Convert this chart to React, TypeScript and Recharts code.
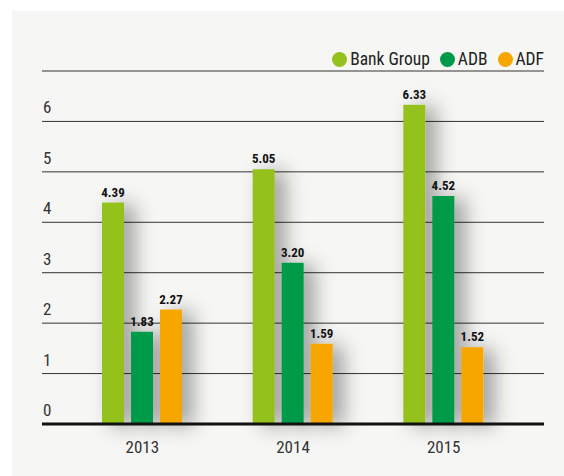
import React from 'react';
import { BarChart, Bar, XAxis, YAxis, CartesianGrid, LabelList } from 'recharts';

const years = ['2013', '2014', '2015'];
const bankGroup = [4.39, 5.05, 6.33];
const adb = [1.83, 3.2, 4.52];
const adf = [2.27, 1.59, 1.52];
const yTicks = [0, 1, 2, 3, 4, 5, 6, 7];

const seriesNames = ['Bank Group', 'ADB', 'ADF'];
const seriesColors = ['#95c11f', '#009b48', '#f7a600'];

const data = years.map((y, i) => ({ year: y, bank: bankGroup[i], adb: adb[i], adf: adf[i] }));

const FONT = '"Liberation Sans Narrow", "Roboto Condensed", "Liberation Sans", Arial, sans-serif';

const YTick = (props: any) => {
  const { x, y, payload } = props;
  if (payload.value === 7) return null;
  return (
    <text x={x + 1} y={y} dy={-8} textAnchor="start" fontSize={17} fill="#333" fontFamily={FONT}>
      {payload.value}
    </text>
  );
};

const LegendBox = () => (
  <div
    style={{
      position: 'absolute',
      right: 20,
      top: 38,
      display: 'flex',
      alignItems: 'center',
      fontFamily: FONT,
      fontSize: 17.5,
      color: '#222',
      lineHeight: '20px',
    }}
  >
    {seriesNames.map((n, i) => (
      <div key={n} style={{ display: 'flex', alignItems: 'center', marginLeft: i === 0 ? 0 : 10 }}>
        <span style={{ width: 15, height: 15, borderRadius: '50%', background: seriesColors[i], display: 'inline-block', marginRight: 3 }} />
        <span>{n}</span>
      </div>
    ))}
  </div>
);

const fmt = (v: any) => Number(v).toFixed(2);
const labelStyle = { fontSize: 13, fontWeight: 'bold', fill: '#111', fontFamily: FONT };

export default function App() {
  return (
    <div style={{ position: 'absolute', left: 12, top: 11, width: 552, height: 465, background: '#f6f6f4' }}>
      <style>{`.recharts-bar-rectangles { filter: url(#barShadow); }`}</style>
      <BarChart
        width={552}
        height={465}
        data={data}
        margin={{ top: 60, right: 20, bottom: 22, left: 0 }}
        barSize={22}
        barGap={7}
      >
        <defs>
          <filter id="barShadow" x="-200%" y="-50%" width="500%" height="200%">
            <feGaussianBlur in="SourceAlpha" stdDeviation="10" />
            <feOffset dx="10" dy="2" result="b" />
            <feFlood floodColor="#000" floodOpacity="0.38" />
            <feComposite in2="b" operator="in" />
            <feMerge>
              <feMergeNode />
              <feMergeNode in="SourceGraphic" />
            </feMerge>
          </filter>
        </defs>
        <CartesianGrid vertical={false} stroke="#333" strokeWidth={1} />
        <XAxis
          dataKey="year"
          padding={{ left: 25, right: 25 }}
          axisLine={{ stroke: '#111', strokeWidth: 3 }}
          tickLine={false}
          tickMargin={11}
          tick={{ fontSize: 17, fill: '#333', fontFamily: FONT }}
        />
        <YAxis
          domain={[0, 7]}
          ticks={yTicks}
          width={30}
          axisLine={false}
          tickLine={false}
          tickSize={0}
          tickMargin={0}
          tick={<YTick />}
          interval={0}
        />
        <Bar dataKey="bank" name={seriesNames[0]} fill={seriesColors[0]} isAnimationActive={false}>
          <LabelList dataKey="bank" position="top" offset={6} formatter={fmt} style={labelStyle} />
        </Bar>
        <Bar dataKey="adb" name={seriesNames[1]} fill={seriesColors[1]} isAnimationActive={false}>
          <LabelList dataKey="adb" position="top" offset={6} formatter={fmt} style={labelStyle} />
        </Bar>
        <Bar dataKey="adf" name={seriesNames[2]} fill={seriesColors[2]} isAnimationActive={false}>
          <LabelList dataKey="adf" position="top" offset={6} formatter={fmt} style={labelStyle} />
        </Bar>
      </BarChart>
      <LegendBox />
    </div>
  );
}
